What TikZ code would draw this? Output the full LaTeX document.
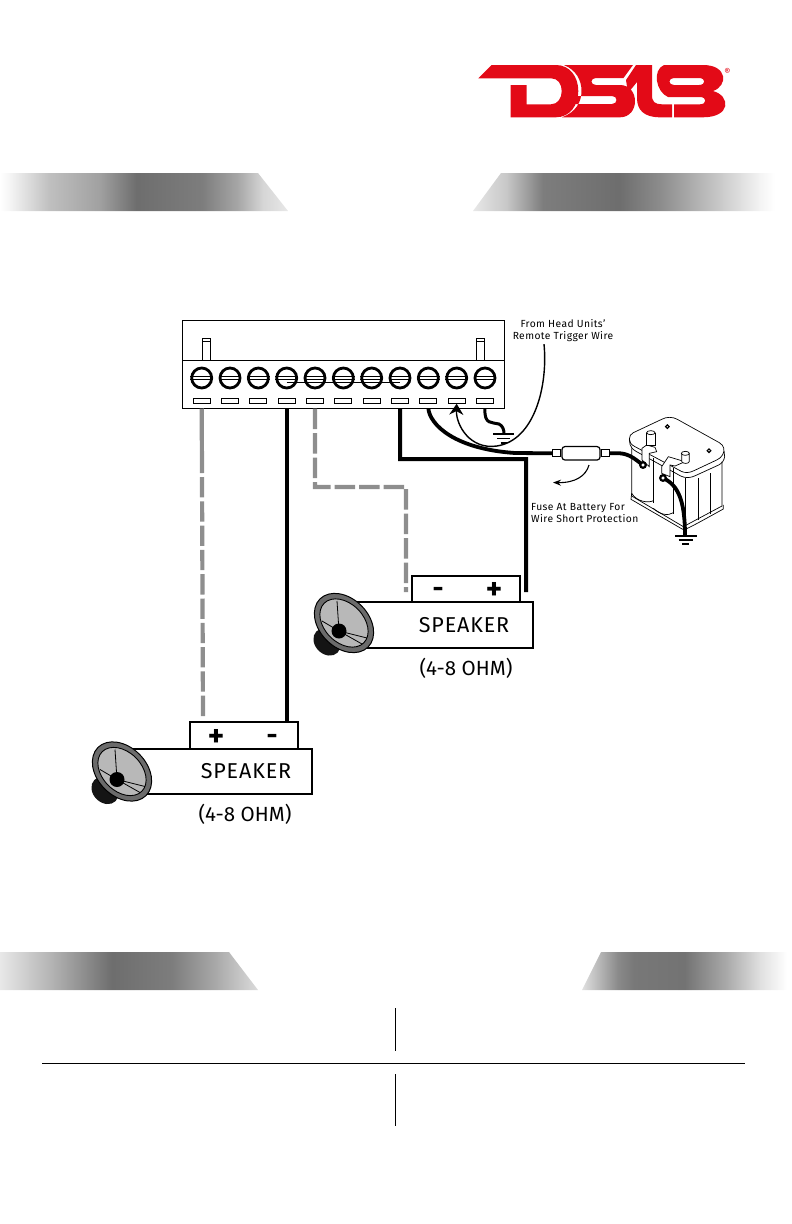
\documentclass[tikz,border=0pt]{standalone}
\usepackage{fontspec}
\setmainfont{Fira Sans}[LetterSpace=4]
\usetikzlibrary{arrows.meta}

\definecolor{logored}{HTML}{E30A17}
\definecolor{wiregray}{HTML}{8E8E8E}
\pgfdeclarehorizontalshading{bandtl}{100bp}{rgb(0bp)=(1,1,1); rgb(25bp)=(1,1,1); rgb(26.7bp)=(.96,.96,.96); rgb(33.6bp)=(.75,.75,.75); rgb(42.3bp)=(.63,.63,.63); rgb(48.7bp)=(.43,.43,.43); rgb(60.1bp)=(.49,.49,.49); rgb(66.2bp)=(.65,.65,.65); rgb(70.7bp)=(.84,.84,.84); rgb(75bp)=(.91,.91,.91); rgb(100bp)=(.91,.91,.91)}
\pgfdeclarehorizontalshading{bandtr}{100bp}{rgb(0bp)=(.91,.91,.91); rgb(25bp)=(.91,.91,.91); rgb(30.6bp)=(.78,.78,.78); rgb(36.6bp)=(.49,.49,.49); rgb(49.2bp)=(.43,.43,.43); rgb(56bp)=(.55,.55,.55); rgb(64.3bp)=(.75,.75,.75); rgb(72.7bp)=(.96,.96,.96); rgb(75bp)=(1,1,1); rgb(100bp)=(1,1,1)}
\pgfdeclarehorizontalshading{bandbl}{100bp}{rgb(0bp)=(.91,.91,.91); rgb(25bp)=(.91,.91,.91); rgb(34.7bp)=(.71,.71,.71); rgb(46.7bp)=(.43,.43,.43); rgb(58.3bp)=(.49,.49,.49); rgb(66.3bp)=(.65,.65,.65); rgb(75bp)=(.86,.86,.86); rgb(100bp)=(.86,.86,.86)}
\pgfdeclarehorizontalshading{bandbr}{100bp}{rgb(0bp)=(.88,.88,.88); rgb(25bp)=(.88,.88,.88); rgb(33.6bp)=(.54,.54,.54); rgb(37.4bp)=(.47,.47,.47); rgb(49.4bp)=(.45,.45,.45); rgb(59.2bp)=(.66,.66,.66); rgb(67.5bp)=(.88,.88,.88); rgb(73.8bp)=(1,1,1); rgb(100bp)=(1,1,1)}

\tikzset{
    screw/.style={circle, draw, line width=2.8pt, minimum size=20pt, inner sep=0pt},
    slot/.style={rectangle, draw, line width=1pt, minimum width=17pt, minimum height=5pt, inner sep=0pt},
    blackwire/.style={line width=4pt, black},
    graywire/.style={line width=4.2pt, wiregray},
    earthline/.style={line width=1.6pt},
    spkbox/.style={rectangle, draw, line width=2pt, fill=white, inner sep=0pt},
    smalltext/.style={font=\fontsize{10.3}{12.6}\selectfont, align=center, inner sep=0pt},
    spktext/.style={font=\fontsize{21.5}{24}\selectfont, inner sep=0pt},
    ohmtext/.style={font=\fontsize{20.5}{24}\selectfont\addfontfeature{LetterSpace=0}, inner sep=0pt},
    plustext/.style={font=\fontsize{31}{31}\bfseries\selectfont, inner sep=0pt, anchor=base},
    minustext/.style={font=\fontsize{27}{27}\bfseries\selectfont, inner sep=0pt, anchor=base},
    speakericon/.pic={
        \fill[shift={(-17,19)}, rotate=-45, fill=black!92] (0,0) ellipse [x radius=15pt, y radius=12pt];
        \draw[line width=1pt, fill=black!58, rotate=-45] (0,0) ellipse [x radius=34pt, y radius=24.5pt];
        \draw[line width=.9pt, fill=black!28, rotate=-45] (0,0) ellipse [x radius=28pt, y radius=19.5pt];
        \draw[line width=.8pt] (-5,8) -- (-7,-22) (-5,8) -- (-22,-2) (-5,8) -- (23,15) (-5,8) -- (18,21);
        \fill[black] (-5,8) circle [radius=7.5pt];
    },
}

\begin{document}
\begin{tikzpicture}[x=1pt, y=-1pt]
    \useasboundingbox (0,0) rectangle (792,1224);
    % logo
    \begin{scope}[fill=logored]
        \fill (478.3,78.3) -- (491.7,65) -- (556,65) .. controls (570,65) and (578.3,77) .. (578.3,91) .. controls (578.3,105) and (570,117.3) .. (556,117.3) -- (510.7,117.3) -- (510.7,85) -- (526.7,85) -- (526.7,104.3) -- (551,104.3) .. controls (558,104.3) and (561.7,98) .. (561.7,91) .. controls (561.7,84) and (558,78.3) .. (551,78.3) -- cycle;
        \fill[even odd rule] (564,65) -- (633,65) -- (623.5,78) -- (596,78) .. controls (590,78) and (590,85) .. (596,85) -- (620,85) .. controls (640,85) and (640,117.3) .. (620,117.3) -- (562,117.3) .. controls (576,112) and (581.5,102) .. (581.5,91) .. controls (581.5,80) and (576,70) .. (564,65) -- cycle
            (574,96) -- (612,96) .. controls (618,96) and (618,104) .. (612,104) -- (570,104) -- cycle;
        \fill (636,65) -- (652,65) -- (652,95) .. controls (652,102) and (655,104.3) .. (662,104.3) -- (672,104.3) -- (672,117.3) -- (660,117.3) .. controls (644,117.3) and (637,110) .. (637,98) -- (637,82) -- (628,93) -- (626,80) -- cycle;
        \fill[even odd rule] (664,65) -- (703,65) .. controls (728,65) and (728,86) .. (713,91) .. controls (731,96) and (731,117.3) .. (703,117.3) -- (674,117.3) -- (674,104.3) -- (700,104.3) .. controls (707,104.3) and (707,97) .. (700,97) -- (668,97) .. controls (656,92) and (652,70) .. (664,65) -- cycle
            (674,78) .. controls (668,78) and (668,85) .. (674,85) -- (699,85) .. controls (706,85) and (706,78) .. (699,78) -- cycle;
    \end{scope}
    \node[text=logored, font=\fontsize{9.5}{10}\selectfont, inner sep=0pt] (regmark) at (727.5,71.5) {®};
    % title bands
    \shade[shading=bandtl] (0,173) -- (258,173) -- (288,211) -- (0,211) -- cycle;
    \shade[shading=bandtr] (501,173) -- (775,173) -- (775,211) -- (473,211) -- cycle;
    \shade[shading=bandbl] (0,952) -- (229,952) -- (258,990) -- (0,990) -- cycle;
    \shade[shading=bandbr] (601,952) -- (792,952) -- (792,990) -- (582,990) -- cycle;
    % table rules
    \draw[line width=.9pt] (395,1008) -- (395,1051);
    \draw[line width=1.3pt] (42,1063.5) -- (745,1063.5);
    \draw[line width=.9pt] (395,1074) -- (395,1126);
    % head unit block
    \node[rectangle, draw, line width=1pt, minimum width=321.3pt, minimum height=88pt, inner sep=0pt] (block) at (343.4,364) {};
    \draw[line width=1pt] (block.west |- 0,360) -- (block.east |- 0,360);
    \foreach \i in {1,...,11} {
        \pgfmathsetmacro{\sx}{201.7+28.33*(\i-1)}
        \node[screw] (screw\i) at (\sx,378) {};
        \node[slot] (slot\i) at (\sx,400.7) {};
        \draw[line width=.8pt] (screw\i.west |- 0,376.5) -- (screw\i.east |- 0,376.5);
        \draw[line width=.8pt] (screw\i.west |- 0,379.5) -- (screw\i.east |- 0,379.5);
    }
    \draw[line width=.8pt] (screw4.center |- 0,382) -- (screw8.center |- 0,382);
    \foreach \px in {202.5,476} {
        \draw[line width=.8pt] (\px,360) -- (\px,338) -- (\px+8,338) -- (\px+8,360);
        \draw[line width=.8pt] (\px,341) -- (\px+8,341);
    }
    % battery
    \begin{scope}[shift={(620,410)}, x=.3333pt, y=-.3333pt, line width=.7pt]
        \draw[fill=white] (35,115) -- (35,258) -- (190,350) -- (306,288) -- (306,155);
        \draw (35,250) -- (33,268) -- (188,358) .. controls (195,360) and (200,358) .. (310,297) -- (310,285);
        \draw (100,145) -- (100,278) (160,175) -- (160,312) (234,205) -- (234,330) (270,190) -- (270,312) (195,205) -- (195,345);
        \draw (35,250) .. controls (50,275) and (85,280) .. (100,272) (100,295) .. controls (120,315) and (145,318) .. (160,308);
        \draw[fill=white] (28,88) .. controls (28,78) and (32,72) .. (40,68) -- (125,28) .. controls (140,20) and (158,20) .. (172,28) -- (298,98) .. controls (312,106) and (316,122) .. (308,134) .. controls (304,142) and (298,146) .. (290,150) -- (222,182) .. controls (210,188) and (196,190) .. (184,184) -- (45,110) .. controls (34,104) and (28,98) .. (28,88) -- cycle;
        \draw (28,88) -- (30,103) .. controls (32,112) and (38,118) .. (48,124) -- (182,198) .. controls (196,205) and (212,204) .. (226,197) -- (296,165) .. controls (306,160) and (312,152) .. (314,140) -- (312,122);
        \draw[fill=white, line width=1.2pt] (142,50) circle [radius=1.8pt] (267,122) circle [radius=1.8pt];
        \draw[fill=white] (66,115) -- (80,105) -- (105,112) -- (110,125) -- (88,130) -- (88,170) -- (66,150) -- cycle;
        \draw[fill=white] (80,68) -- (80,105) -- (105,105) -- (105,68);
        \draw[fill=white] (92.5,68) ellipse [x radius=4.2pt, y radius=2pt];
        \draw[fill=white] (125,170) -- (145,140) -- (195,155) -- (165,168) -- (150,165) -- (150,200) -- (125,190) -- cycle;
        \draw[fill=white] (185,130) -- (185,155) .. controls (190,162) and (205,162) .. (208,155) -- (208,130);
        \draw[fill=white] (196,130) ellipse [x radius=4pt, y radius=2pt];
    \end{scope}
    % wires
    \coordinate (leglug) at (643,465);
    \coordinate (earthlug) at (663,478);
    \node[rectangle, draw, line width=1.2pt, rounded corners=3pt, minimum width=38pt, minimum height=13.5pt, inner sep=0pt] (fuse) at (581,453.3) {};
    \node[rectangle, draw, line width=1pt, minimum width=8pt, minimum height=7pt, inner sep=0pt, anchor=east] (capl) at (fuse.west) {};
    \node[rectangle, draw, line width=1pt, minimum width=8pt, minimum height=7pt, inner sep=0pt, anchor=west] (capr) at (fuse.east) {};
    \draw[line width=3.8pt] (capr.east) -- (620,453.3) .. controls (630,454) and (636,460) .. (leglug);
    \draw[line width=2.2pt, fill=white] (leglug) circle [radius=2.8pt];
    \draw[line width=3.8pt] (earthlug) .. controls (678,485) and (685,500) .. (685,536);
    \draw[line width=2.2pt, fill=white] (earthlug) circle [radius=2.8pt];
    \draw[earthline] (675,536) -- (697,536) (678.5,540) -- (692.5,540) (682,544) -- (689,544);
    \draw[line width=3.8pt] (slot9.south |- block.south) .. controls (430,425) and (455,449) .. (515,453) -- (capl.west);
    \draw[line width=3pt] (slot11.south |- block.south) .. controls (484,425) and (492,422) .. (499,424) .. controls (503,426) and (504,430) .. (504,434);
    \draw[earthline] (493,434) -- (514,434) (497,438.5) -- (510,438.5) (500.5,443) -- (506.5,443);
    \node[smalltext] (remotelabel) at (563,330.5) {From Head Units’\\Remote Trigger Wire};
    \draw[line width=1.4pt, -{Stealth[length=11pt, width=14pt]}] (remotelabel.south) ++(-19,2) .. controls (548,385) and (535,440) .. (497,446) .. controls (470,450) and (456,425) .. (slot10.south);
    \node[smalltext, align=left, anchor=west] (fuselabel) at (531,513) {Fuse At Battery For\\Wire Short Protection};
    \coordinate (notestart) at (589,465);
    \coordinate (noteend) at (553,482.5);
    \draw[line width=1.1pt, -{Stealth[length=8pt, width=6pt]}] (notestart) .. controls (586,476) and (575,483) .. (noteend);
    % speaker boxes
    \node[spkbox, minimum width=108.3pt, minimum height=26.3pt] (terma) at (465.9,588.9) {};
    \node[spkbox, minimum width=178pt, minimum height=46pt] (boxa) at (444,625) {};
    \node[spkbox, minimum width=108pt, minimum height=27.3pt] (termb) at (244,735.4) {};
    \node[spkbox, minimum width=178.7pt, minimum height=45pt] (boxb) at (222.4,771.5) {};
    \node[minustext] (minusa) at (438,597) {-};
    \node[plustext] (plusa) at (494,599.5) {+};
    \node[plustext] (plusb) at (216,746) {+};
    \node[minustext] (minusb) at (272,744) {-};
    \node[spktext] (spklabela) at (464,625) {SPEAKER};
    \node[ohmtext] (ohmlabela) at (466,668) {(4-8 OHM)};
    \node[spktext] (spklabelb) at (246,771.5) {SPEAKER};
    \node[ohmtext] (ohmlabelb) at (245,814) {(4-8 OHM)};
    \pic at (344,623) {speakericon};
    \pic at (122,771.5) {speakericon};
    % speaker wires
    \coordinate (solidgrayb) at (202,473);
    \coordinate (endgraya) at (406,592);
    \coordinate (endblacka) at (526,592);
    \coordinate (endgrayb) at (203,718);
    \draw[graywire] (slot1.south |- block.south) -- (solidgrayb);
    \draw[graywire, dash pattern=on 20.3pt off 4pt] (solidgrayb) ++(0,4) -- (endgrayb);
    \draw[blackwire] (slot4.south |- block.south) -- (slot4.south |- termb.north);
    \draw[graywire, dash pattern=on 20.5pt off 4pt] (slot5.south |- block.south) -- (315,487) -- (406,487) -- (endgraya);
    \draw[blackwire] (slot8.south |- block.south) -- (400,459) -- (526,459) -- (endblacka);
\end{tikzpicture}
\end{document}
